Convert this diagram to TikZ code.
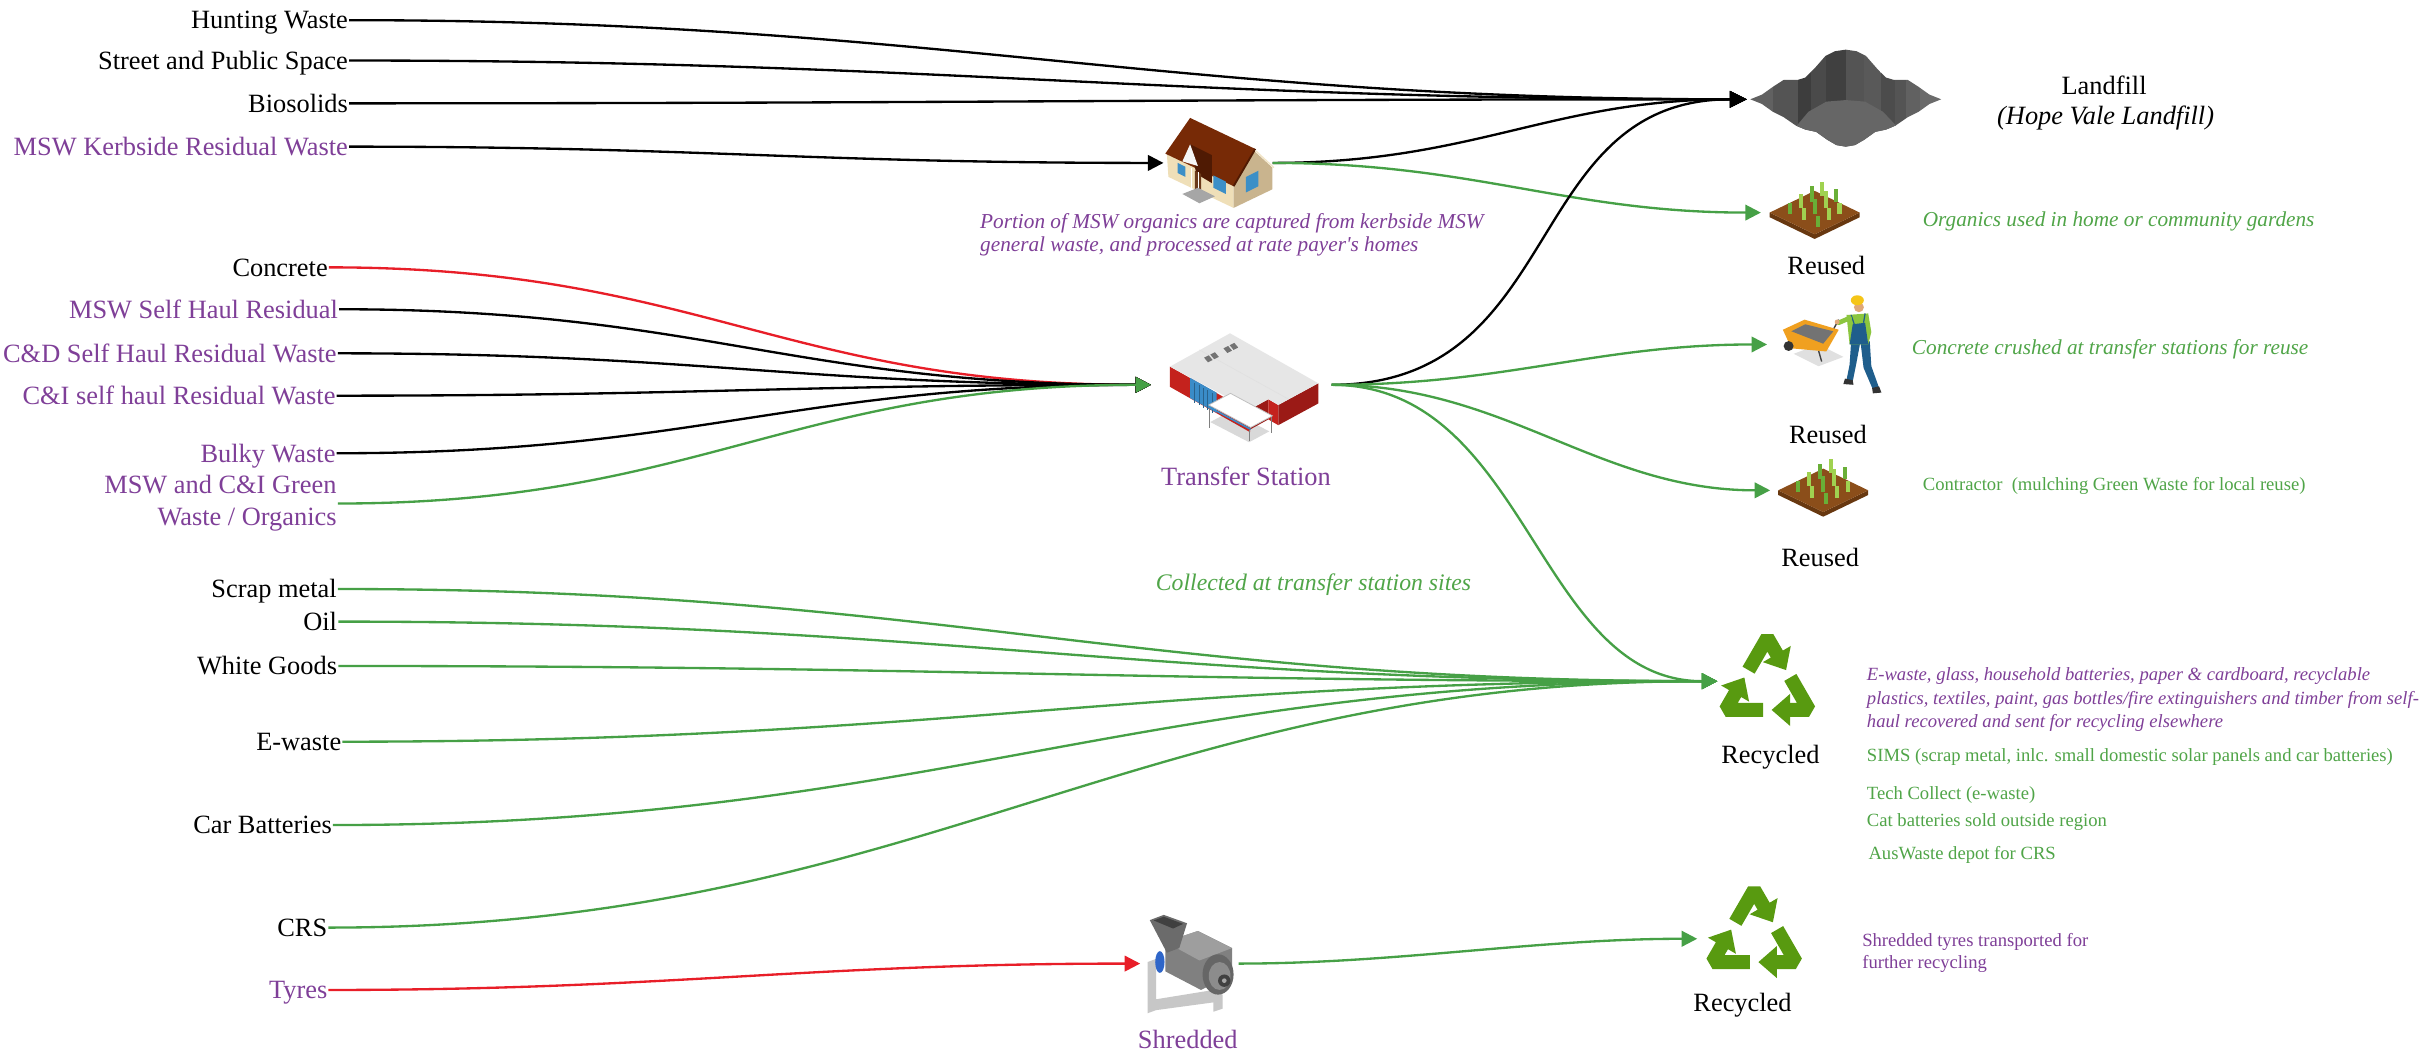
\documentclass[tikz,border=0pt]{standalone}
\usepackage{fontspec}
\setmainfont{Liberation Serif}
\usetikzlibrary{arrows.meta}

\definecolor{labpurple}{RGB}{127,63,152}
\definecolor{txtgreen}{RGB}{80,165,72}
\definecolor{flowgreen}{RGB}{70,160,70}
\definecolor{flowred}{RGB}{232,30,40}
\definecolor{recgreen}{RGB}{88,154,16}
\definecolor{hroof}{RGB}{119,42,6}
\definecolor{hroofdark}{RGB}{79,26,3}
\definecolor{hfront}{RGB}{239,223,184}
\definecolor{hside}{RGB}{201,180,142}
\definecolor{hwin}{RGB}{60,143,199}
\definecolor{hdoor}{RGB}{107,58,26}
\definecolor{tsroof}{RGB}{230,230,230}
\definecolor{tsred}{RGB}{196,34,29}
\definecolor{tsdark}{RGB}{155,26,22}
\definecolor{tsdoor}{RGB}{58,140,200}
\definecolor{soil}{RGB}{139,78,26}
\definecolor{soilside}{RGB}{104,56,16}
\definecolor{sproutlight}{RGB}{160,210,80}
\definecolor{sproutdark}{RGB}{105,175,55}
\definecolor{cartorange}{RGB}{240,160,32}
\definecolor{overall}{RGB}{31,94,140}
\definecolor{shirtgreen}{RGB}{140,198,63}
\definecolor{skin}{RGB}{224,168,120}
\definecolor{hatyellow}{RGB}{245,197,24}
\definecolor{shredblue}{RGB}{47,102,201}

\newcommand\fsbig{\fontsize{17}{20.5}\selectfont}
\newcommand\fsnote{\fontsize{13.7}{15}\selectfont\itshape}
\newcommand\fssmall{\fontsize{12}{15}\selectfont}

\tikzset{
  srclabel/.style={anchor=east, inner sep=0.6pt, text height=11.3pt, text depth=0pt, font=\fsbig},
  stagelabel/.style={inner sep=0pt, font=\fsbig},
  notetext/.style={anchor=west, inner sep=0pt, align=left},
  iconbox/.style={inner sep=0pt, minimum width=#1, minimum height=40pt},
  flow/.style={line width=1.5pt, -{Triangle[length=10pt,width=10pt]}},
  blackflow/.style={flow, draw=black},
  fillflow/.style={line width=1.5pt, draw=black, -{Triangle[length=11pt,width=10.5pt]}},
  greenflow/.style={flow, draw=flowgreen},
  redflow/.style={flow, draw=flowred},
  recycle/.pic={
    \foreach \r in {0,120,240}
      \draw[recgreen, line width=9pt, line join=bevel,
            -{Triangle[length=12pt,width=20pt]}, rotate=\r]
        (-12.1,-10.1) -- (0,-31) -- (12.1,-10.1);
  },
  garden/.pic={
    \fill[soilside] (-29,0) -- (0,14) -- (29,0) -- (29,3) -- (0,17) -- (-29,3) -- cycle;
    \fill[soil] (-29,0) -- (0,-14) -- (29,0) -- (0,14) -- cycle;
    \foreach \sx/\sy/\sh/\sc in {-16/1/7/sproutdark, -9/-3/9/sproutlight, -2/-7/10/sproutdark,
        5/-11/9/sproutlight, -7/5/8/sproutlight, 0/1/10/sproutdark, 7/-3/11/sproutlight,
        14/-7/8/sproutdark, 2/9/7/sproutdark, 9/5/8/sproutlight, 16/1/7/sproutlight}
      \fill[\sc] (\sx-1.3,\sy) rectangle (\sx+1.3,\sy-\sh);
  },
}

\begin{document}
\begin{tikzpicture}[x=1pt,y=-1pt]
\useasboundingbox (0,0) rectangle (1568,683);
\fill[white] (0,0) rectangle (1568,683);

% ---------- source streams ----------
\node[srclabel] (hunting) at (225,13) {Hunting Waste};
\node[srclabel] (street) at (225,39) {Street and Public Space};
\node[srclabel] (bio) at (225,66.6) {Biosolids};
\node[srclabel, text=labpurple] (kerb) at (225,94.5) {MSW Kerbside Residual Waste};
\node[srclabel] (concrete) at (212,172.3) {Concrete};
\node[srclabel, text=labpurple] (mswsh) at (218.6,199.3) {MSW Self Haul Residual};
\node[srclabel, text=labpurple] (cdsh) at (217.7,227.7) {C\&D Self Haul Residual Waste};
\node[srclabel, text=labpurple] (cish) at (217,255) {C\&I self haul Residual Waste};
\node[srclabel, text=labpurple] (bulky) at (217,292.1) {Bulky Waste};
\node[anchor=east, inner sep=0.6pt, align=right, font=\fsbig, text=labpurple] (greenw)
  at (217.7,324.5) {MSW and C\&I Green\\Waste / Organics};
\node[srclabel] (scrap) at (217.8,379.6) {Scrap metal};
\node[srclabel] (oil) at (218,400.6) {Oil};
\node[srclabel] (white) at (218,429.2) {White Goods};
\node[srclabel] (ewaste) at (220.7,478) {E-waste};
\node[srclabel] (carbat) at (214.6,531.7) {Car Batteries};
\node[srclabel] (crs) at (211.7,597.8) {CRS};
\node[srclabel, text=labpurple] (tyres) at (211.7,638) {Tyres};

% ---------- facilities and destinations ----------
\node[iconbox=127pt] (landfill) at (1189.5,64) {};
\node[iconbox=70pt] (house) at (785,105) {};
\node[iconbox=116pt] (transfer) at (800,248) {};
\node[iconbox=63pt] (shredder) at (766.5,621) {};
\node[iconbox=66pt] (garden1) at (1168,137) {};
\node[iconbox=78pt] (worker) at (1178,222) {};
\node[iconbox=64pt] (garden2) at (1173,316) {};
\node[iconbox=64pt] (recycle1) at (1139,439) {};
\node[iconbox=72pt] (recycle2) at (1130,605) {};

% ---------- flows ----------
\draw[fillflow] (hunting.east) .. controls +(375,0) and +(-376,0) .. (landfill.west);
\draw[fillflow] (street.east) .. controls +(375,0) and +(-376,0) .. (landfill.west);
\draw[fillflow] (bio.east) .. controls +(375,0) and +(-376,0) .. (landfill.west);
\draw[blackflow] (kerb.east) .. controls +(225,0) and +(-230,0) .. (house.west);
\draw[fillflow] (house.east) .. controls +(130,0) and +(-126,0) .. (landfill.west);
\draw[greenflow] (house.east) .. controls +(130,0) and +(-125,0) .. (garden1.west);

\draw[redflow] (concrete.east) .. controls +(238,0) and +(-237,0) .. (transfer.west);
\draw[blackflow] (mswsh.east) .. controls +(232,0) and +(-232,0) .. (transfer.west);
\draw[blackflow] (cdsh.east) .. controls +(232,0) and +(-232,0) .. (transfer.west);
\draw[blackflow] (cish.east) .. controls +(232,0) and +(-232,0) .. (transfer.west);
\draw[blackflow] (bulky.east) .. controls +(232,0) and +(-232,0) .. (transfer.west);
\draw[greenflow] (greenw.east) .. controls +(232,0) and +(-232,0) .. (transfer.west);

\draw[fillflow] (transfer.east) .. controls +(152,0) and +(-146,0) .. (landfill.west);
\draw[greenflow] (transfer.east) .. controls +(112,0) and +(-109,0) .. (worker.west);
\draw[greenflow] (transfer.east) .. controls +(112,0) and +(-111,0) .. (garden2.west);
\draw[greenflow] (transfer.east) .. controls +(127,0) and +(-117,0) .. (recycle1.west);

\foreach \s in {scrap,oil,white,ewaste,carbat,crs}
  \draw[greenflow] (\s.east) .. controls +(382,0) and +(-377,0) .. (recycle1.west);

\draw[redflow] (tyres.east) .. controls +(218,0) and +(-215,0) .. (shredder.west);
\draw[greenflow] (shredder.east) .. controls +(102,0) and +(-104,0) .. (recycle2.west);

% ---------- landfill pit ----------
\begin{scope}[shift={(1189.5,64)}]
  \begin{scope}
    \clip (0,-32) -- (-7,-31) -- (-13,-28) -- (-20,-20) -- (-26,-14) -- (-31,-12.5) -- (-40,-12.5)
      -- (-47,-8) -- (-54,-3) -- (-61.5,0) -- (-54,3) -- (-47,8) -- (-40,11.5) -- (-32,17)
      -- (-26,19.5) -- (-19,21) -- (-12,26) -- (-6,29.5) -- (0,30.5) -- (6,29.5) -- (12,26)
      -- (19,21) -- (26,19.5) -- (32,17) -- (40,11.5) -- (47,8) -- (54,3) -- (61.5,0)
      -- (54,-3) -- (47,-8) -- (40,-12.5) -- (31,-12.5) -- (26,-14) -- (20,-20) -- (13,-28)
      -- (7,-31) -- cycle;
    \foreach \xa/\xb/\c in {-62/-47/62, -47/-31/67, -31/-22.5/76, -22.5/-12.5/71, -12.5/0/75,
        0/12/67, 12/23/65, 23/32/70, 32/39/67, 39/48/62, 48/62/58}
      \fill[black!\c] (\xa,-35) rectangle (\xb,35);
    \fill[black!60] (-32,17.5) -- (-24,8) -- (-12.5,1.5) -- (0,0.5) -- (12.5,1.5) -- (24,8)
      -- (33,17.5) -- (33,35) -- (-33,35) -- cycle;
  \end{scope}
\end{scope}
\node[stagelabel] (landfilltxt) at (1356,55) {Landfill};
\node[stagelabel, font=\fsbig\itshape] (hopevale) at (1357,76) {(Hope Vale Landfill)};

% ---------- house ----------
\fill[hfront] (752,99) -- (795,119) -- (795,134) -- (753,114) -- cycle;
\fill[hside] (795,119) -- (808,97) -- (820,108) -- (820,122) -- (795,134) -- cycle;
\fill[hroof] (767,76) -- (809,96) -- (795,120) -- (751,99) -- cycle;
\draw[hroofdark, line width=1.2pt] (809,96) -- (795,120);
\draw[hfront!80!white, line width=0.8pt] (809,97) -- (821,108);
\fill[hroofdark] (767,93) -- (781,100) -- (781,118) -- (771,112) -- cycle;
\fill[white!92!gray] (762,104) -- (767,93) -- (772,107) -- cycle;
\fill[hdoor] (770,110) -- (774,112) -- (774,126) -- (770,124) -- cycle;
\draw[white, line width=1pt] (768,108) -- (768,126) (772.5,111) -- (772.5,128);
\fill[hwin] (759,105) -- (764,107.5) -- (764,114) -- (759,111.5) -- cycle;
\fill[hwin] (782,113) -- (790,117) -- (790,125) -- (782,121) -- cycle;
\fill[hwin] (803,114) -- (811,110) -- (811,120) -- (803,124) -- cycle;
\fill[gray!70] (762,125) -- (772,121) -- (783,126.5) -- (773,131) -- cycle;
\node[notetext, font=\fsnote, text=labpurple] (housenote) at (631.5,151.5)
  {Portion of MSW organics are captured from kerbside MSW\\general waste, and processed at rate payer\textquotesingle s homes};

% ---------- transfer station ----------
\fill[black!15] (780,272) -- (805,285) -- (818,278) -- (793,265) -- cycle;
\fill[tsred] (754,236.3) -- (805.6,265.5) -- (805.6,278.5) -- (754,249.3) -- cycle;
\fill[tsdark] (805.6,263.8) -- (817.4,257.3) -- (817.4,270.3) -- (805.6,276.8) -- cycle;
\fill[tsred] (817.4,257.3) -- (823.8,261) -- (823.8,274) -- (817.4,270.3) -- cycle;
\fill[tsdark] (823.8,261) -- (849.6,247) -- (849.6,260) -- (823.8,274) -- cycle;
\fill[tsroof] (792.7,214.8) -- (849.6,247) -- (823.8,261) -- (817.4,257.3) -- (805.6,263.8)
  -- (754,236.3) -- cycle;
\draw[black!12, line width=0.4pt] (773,225.5) -- (830,257);
\fill[tsdoor] (767,243.5) -- (784,253) -- (784,266) -- (767,256.5) -- cycle;
\foreach \i in {1,...,5}
  \draw[tsdoor!70!black, line width=0.3pt] (767+2.8*\i,245.1+1.6*\i) -- (767+2.8*\i,258.1+1.6*\i);
\draw[gray, line width=0.8pt] (779.5,262.5) -- (779.5,276) (805.5,277) -- (805.5,284) (819.5,269) -- (819.5,279);
\fill[white] (779,261) -- (806,275.5) -- (820,268) -- (793,253.5) -- cycle;
\draw[gray!50, line width=0.5pt] (779,261) -- (806,275.5) -- (820,268) -- (793,253.5) -- cycle;
\draw[tsdoor, line width=1pt] (779,262.2) -- (806,276.7);
\fill[black!55] (776,230.5) -- (779,229) -- (781.5,232) -- (778.5,233.5) -- cycle;
\fill[black!55] (780,228.5) -- (783,227) -- (785.5,230) -- (782.5,231.5) -- cycle;
\fill[black!55] (788.5,224.5) -- (791.5,223) -- (794,226) -- (791,227.5) -- cycle;
\fill[black!55] (792.5,222.5) -- (795.5,221) -- (798,224) -- (795,225.5) -- cycle;
\node[stagelabel, text=labpurple] (transfertxt) at (803,307) {Transfer Station};
\node[font=\fontsize{15.3}{16}\selectfont\itshape, text=txtgreen, inner sep=0pt] (collected) at (846.5,377) {Collected at transfer station sites};

% ---------- shredder ----------
\fill[black!22] (739.6,620) -- (745,618) -- (745,651) -- (739.6,653) -- cycle;
\fill[black!22] (745,644) -- (782,638) -- (788,641) -- (788,650) -- (782,652) -- (782,646) -- (745,651) -- cycle;
\fill[shredblue] (747.5,620) ellipse (3 and 7);
\fill[black!50] (751,607) -- (772,600) -- (794,611) -- (794,628) -- (774,638) -- (751,626) -- cycle;
\fill[black!38] (751,607) -- (772,600) -- (794,611) -- (773,619) -- cycle;
\fill[black!60] (785,628) ellipse (10 and 13);
\fill[black!45] (786,629) ellipse (7 and 9);
\fill[black!75] (789,632) circle (4);
\fill[black!35] (789,632) circle (1.5);
\fill[black!58] (741,593) -- (750,589.6) -- (765,595) -- (760,611) -- (752,614) -- cycle;
\fill[black!75] (743.5,593.2) -- (750,590.8) -- (762.5,595.4) -- (756,598.4) -- cycle;
\node[stagelabel, text=labpurple] (shreddedtxt) at (765.5,670) {Shredded};

% ---------- reuse destinations ----------
\pic at (1169.5,137) {garden};
\node[stagelabel] (reused1) at (1177,171) {Reused};
\node[notetext, font=\fsnote, text=txtgreen] (orgnote) at (1239,143) {Organics used in home or community gardens};

\fill[black!12] (1156,228) -- (1172,222) -- (1188,230) -- (1172,236) -- cycle;
\draw[black!75, line width=0.9pt] (1172,226) -- (1174,233) (1177,224) .. controls (1180,215) .. (1185,206);
\fill[cartorange] (1149,212.5) -- (1163,206) -- (1185,212.5) -- (1177,226.5) -- (1154.5,224.5) -- cycle;
\fill[black!55] (1154.5,213.5) -- (1163.5,209) -- (1181.5,213.5) -- (1175,221.5) -- cycle;
\fill[black!80] (1152.7,223) circle (3.2);
\fill[overall] (1193,220) -- (1199,220) -- (1196,236) -- (1194,246) -- (1190,245) -- (1192,235) -- cycle;
\fill[overall] (1199,220) -- (1205,220) -- (1206,236) -- (1211,250) -- (1207,251) -- (1201,237) -- cycle;
\fill[black!80] (1189,244) -- (1194,245) -- (1194.5,248) -- (1188,247.5) -- cycle;
\fill[black!80] (1206.5,250) -- (1211,249) -- (1212.5,253) -- (1207,253.5) -- cycle;
\fill[shirtgreen] (1190,203) -- (1204,202) -- (1206,214) -- (1204,222) -- (1192,222) -- cycle;
\fill[overall] (1194,209) -- (1202,208) -- (1204,222) -- (1192,222) -- cycle;
\draw[overall, line width=0.8pt] (1195,209) -- (1193,203) (1201,208) -- (1202,202);
\draw[shirtgreen, line width=3pt, line cap=round] (1192,205) -- (1185,208);
\fill[skin] (1184,207.5) circle (1.6);
\fill[skin] (1198,198) circle (3.2);
\fill[hatyellow] (1197,193.5) ellipse (4.2 and 3.2);
\node[stagelabel] (reused2) at (1178,280) {Reused};
\node[notetext, font=\fsnote, text=txtgreen] (concnote) at (1232,225) {Concrete crushed at transfer stations for reuse};

\pic at (1175,316) {garden};
\node[stagelabel] (reused3) at (1173,359) {Reused};
\node[notetext, font=\fssmall, text=txtgreen] (contnote) at (1239,313) {Contractor\ \ (mulching Green Waste for local reuse)};

% ---------- recycling destinations ----------
\pic at (1139,442) {recycle};
\node[stagelabel] (recycled1) at (1141,488) {Recycled};
\node[notetext, font=\fssmall\itshape, text=labpurple] (recnote) at (1203,451)
  {E-waste, glass, household batteries, paper \& cardboard, recyclable\\plastics, textiles, paint, gas bottles/fire extinguishers and timber from self-\\haul recovered and sent for recycling elsewhere};
\node[notetext, font=\fssmall, text=txtgreen] (sims) at (1203,488) {SIMS (scrap metal, inlc. small domestic solar panels and car batteries)};
\node[notetext, font=\fssmall, text=txtgreen] (techcollect) at (1203,512.5) {Tech Collect (e-waste)};
\node[notetext, font=\fssmall, text=txtgreen] (catbat) at (1203,530) {Cat batteries sold outside region};
\node[notetext, font=\fssmall, text=txtgreen] (auswaste) at (1204,551) {AusWaste depot for CRS};

\pic at (1130.5,604.5) {recycle};
\node[stagelabel] (recycled2) at (1123,648) {Recycled};
\node[notetext, font=\fontsize{12}{14}\selectfont, text=labpurple] (tyrenote) at (1200,614)
  {Shredded tyres transported for\\further recycling};
\end{tikzpicture}
\end{document}
